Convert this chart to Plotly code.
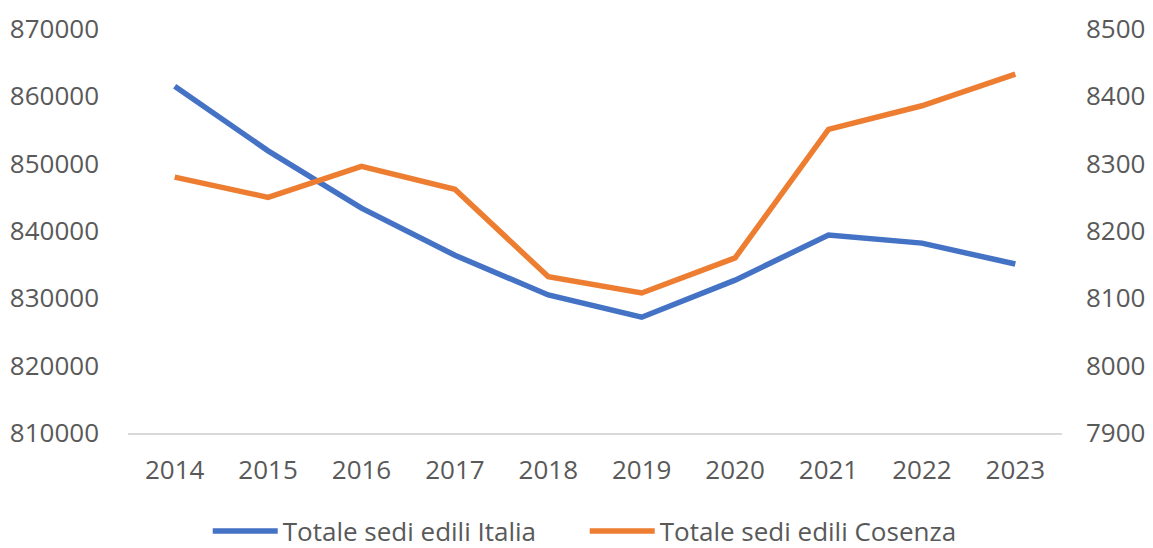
import plotly.graph_objects as go

years = ["2014", "2015", "2016", "2017", "2018", "2019", "2020", "2021", "2022", "2023"]
italia = [861500, 851900, 843400, 836400, 830500, 827200, 832700, 839400, 838200, 835100]
cosenza = [8280, 8250, 8296, 8262, 8132, 8108, 8160, 8351, 8386, 8433]

BLUE = "#4472C4"
ORANGE = "#ED7D31"
GREY = "#595959"
FONT = "Open Sans, sans-serif"

fig = go.Figure()
fig.add_trace(go.Scatter(
    x=years, y=italia, name="Totale sedi edili Italia",
    mode="lines", line=dict(color=BLUE, width=5.5),
))
fig.add_trace(go.Scatter(
    x=years, y=cosenza, name="Totale sedi edili Cosenza",
    mode="lines", line=dict(color=ORANGE, width=5.5), yaxis="y2",
))

fig.update_layout(
    width=1153, height=548,
    margin=dict(l=128, r=91, t=29, b=115, autoexpand=False),
    paper_bgcolor="white", plot_bgcolor="white",
    font=dict(family=FONT, size=26, color=GREY),
    xaxis=dict(
        type="category", range=[-0.5, 9.5], automargin=False,
        showgrid=False, showline=True, linecolor="#D9D9D9", linewidth=2,
        ticks="", ticklabelstandoff=13,
        tickfont=dict(size=26, color=GREY),
    ),
    yaxis=dict(
        range=[810000, 870000], dtick=10000, showgrid=False, automargin=False,
        zeroline=False, ticks="", ticklabelstandoff=28,
        tickformat="d", tickfont=dict(size=26, color=GREY),
    ),
    yaxis2=dict(
        range=[7900, 8500], dtick=100, showgrid=False, automargin=False,
        zeroline=False, overlaying="y", side="right", ticks="",
        ticklabelstandoff=23, tickformat="d",
        tickfont=dict(size=26, color=GREY),
    ),
    legend=dict(
        orientation="h", x=0.489, xanchor="center", y=-0.243, yanchor="middle",
        font=dict(size=26, color=GREY), itemwidth=65, entrywidth=297,
        tracegroupgap=0,
    ),
    showlegend=True,
)

# drop the default 8px body margin so the figure fills the window exactly
fig.write_html(
    "out.html",
    config={"displayModeBar": False},
    post_script="document.body.style.margin='0';",
)
